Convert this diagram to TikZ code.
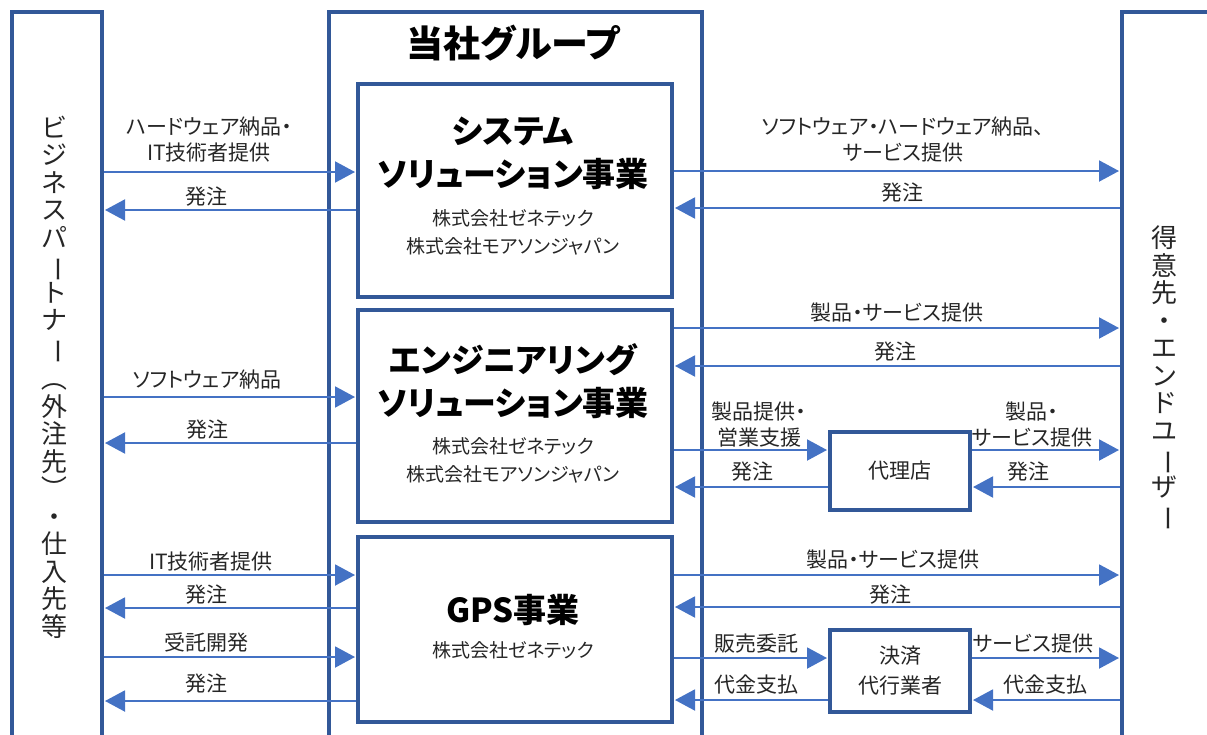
\documentclass[tikz,border=0pt]{standalone}
\usepackage{fontspec}
\usepackage{graphicx}
\setmainfont{Noto Sans CJK JP}[RawFeature=+palt]
\newfontfamily\vfont{Noto Sans CJK JP}
\usetikzlibrary{arrows.meta}
\definecolor{boxc}{RGB}{50,88,152}
\definecolor{arrc}{RGB}{68,114,196}
\definecolor{txtc}{RGB}{38,38,38}
\newcommand\vchoon{\rotatebox[origin=c]{-90}{ー}}
\newcommand\vlparen{\rotatebox[origin=c]{-90}{（}}
\newcommand\vrparen{\rotatebox[origin=c]{-90}{）}}
\begin{document}
\begin{tikzpicture}[x=1pt,y=-1pt,
  bx/.style={draw=boxc, line width=4pt, inner sep=0pt},
  arr/.style={draw=arrc, line width=2pt, -{Triangle[length=20pt,width=21pt]}, shorten >=1pt},
  lbl/.style={font=\fontsize{21}{26}\selectfont, text=txtc, align=center, inner sep=0pt},
  ttl/.style={font=\bfseries\fontsize{33}{43}\selectfont, align=center, inner sep=0pt},
  co/.style={font=\fontsize{19}{28}\selectfont, text=txtc, align=center, inner sep=0pt},
  vtxt/.style={font=\vfont\fontsize{26}{27.5}\selectfont, text=txtc, align=center, inner sep=0pt},
  small/.style={bx, font=\fontsize{21}{30}\selectfont, text=txtc, align=center, minimum width=140pt}]
\useasboundingbox (0,0) rectangle (1207,734);
\clip (0,0) rectangle (1207,734);
% outer columns
\node[bx, anchor=north west, minimum width=90pt, minimum height=760pt] (lp) at (10,10) {};
\node[bx, anchor=north west, minimum width=373pt, minimum height=760pt] (grp) at (327,10) {};
\node[bx, anchor=north west, minimum width=120pt, minimum height=760pt] (rp) at (1120,10) {};
% inner boxes
\node[bx, anchor=north west, minimum width=314pt, minimum height=213pt] (sys) at (356,82) {};
\node[bx, anchor=north west, minimum width=314pt, minimum height=212pt] (eng) at (356,308) {};
\node[bx, anchor=north west, minimum width=314pt, minimum height=185pt] (gps) at (356,535) {};
\node[small, minimum height=78pt] (dairi) at (900,471) {代理店};
\node[small, minimum height=82pt] (kessai) at (900,671) {決済\\代行業者};
% titles
\node[font=\bfseries\fontsize{37}{40}\selectfont, inner sep=0pt] (gtitle) at (513,43) {当社グループ};
\node[ttl] (sysT) at (513,153) {システム\\ソリューション事業};
\node[co] (sysC) at (513,232) {株式会社ゼネテック\\株式会社モアソンジャパン};
\node[ttl] (engT) at (513,381) {エンジニアリング\\ソリューション事業};
\node[co] (engC) at (513,460) {株式会社ゼネテック\\株式会社モアソンジャパン};
\node[ttl] (gpsT) at (513,610) {GPS事業};
\node[co] (gpsC) at (513,650) {株式会社ゼネテック};
% vertical texts
\node[vtxt] (lpT) at (54,377) {ビ\\ジ\\ネ\\ス\\パ\\\vchoon\\ト\\ナ\\\vchoon\\\vlparen\\外\\注\\先\\\vrparen\\・\\仕\\入\\先\\等};
\node[vtxt] (rpT) at (1164,379) {得\\意\\先\\・\\エ\\ン\\ド\\ユ\\\vchoon\\ザ\\\vchoon};
% left arrows
\draw[arr] (lp.east |- 0,172) -- (sys.west |- 0,172);
\draw[arr] (sys.west |- 0,210) -- (lp.east |- 0,210);
\draw[arr] (lp.east |- 0,397) -- (eng.west |- 0,397);
\draw[arr] (eng.west |- 0,443) -- (lp.east |- 0,443);
\draw[arr] (lp.east |- 0,575) -- (gps.west |- 0,575);
\draw[arr] (gps.west |- 0,608) -- (lp.east |- 0,608);
\draw[arr] (lp.east |- 0,657) -- (gps.west |- 0,657);
\draw[arr] (gps.west |- 0,701) -- (lp.east |- 0,701);
% right arrows
\draw[arr] (sys.east |- 0,171) -- (rp.west |- 0,171);
\draw[arr] (rp.west |- 0,208) -- (sys.east |- 0,208);
\draw[arr] (eng.east |- 0,328) -- (rp.west |- 0,328);
\draw[arr] (rp.west |- 0,366) -- (eng.east |- 0,366);
\draw[arr] (eng.east |- 0,450) -- (dairi.west |- 0,450);
\draw[arr] (dairi.west |- 0,487) -- (eng.east |- 0,487);
\draw[arr] (dairi.east |- 0,450) -- (rp.west |- 0,450);
\draw[arr] (rp.west |- 0,487) -- (dairi.east |- 0,487);
\draw[arr] (gps.east |- 0,575) -- (rp.west |- 0,575);
\draw[arr] (rp.west |- 0,607) -- (gps.east |- 0,607);
\draw[arr] (gps.east |- 0,658) -- (kessai.west |- 0,658);
\draw[arr] (kessai.west |- 0,700) -- (gps.east |- 0,700);
\draw[arr] (kessai.east |- 0,658) -- (rp.west |- 0,658);
\draw[arr] (rp.west |- 0,700) -- (kessai.east |- 0,700);
% left labels
\node[lbl] (l1) at (209,140) {ハードウェア納品・\\IT技術者提供};
\node[lbl] (l2) at (206,197) {発注};
\node[lbl] (l3) at (207,380) {ソフトウェア納品};
\node[lbl] (l4) at (207,430) {発注};
\node[lbl] (l5) at (211,562) {IT技術者提供};
\node[lbl] (l6) at (206,595) {発注};
\node[lbl] (l7) at (206,643) {受託開発};
\node[lbl] (l8) at (206,684) {発注};
% right labels
\node[lbl] (r1) at (903,140) {ソフトウェア・ハードウェア納品、\\サービス提供};
\node[lbl] (r2) at (902,193) {発注};
\node[lbl] (r3) at (897,313) {製品・サービス提供};
\node[lbl] (r4) at (895,352) {発注};
\node[lbl] (r5) at (893,560) {製品・サービス提供};
\node[lbl] (r6) at (890,595) {発注};
\node[lbl] (a1) at (759,425) {製品提供・\\営業支援};
\node[lbl] (a2) at (752,472) {発注};
\node[lbl] (a3) at (1032,425) {製品・\\サービス提供};
\node[lbl] (a4) at (1028,472) {発注};
\node[lbl] (p1) at (756,644) {販売委託};
\node[lbl] (p2) at (756,685) {代金支払};
\node[lbl] (p3) at (1033,644) {サービス提供};
\node[lbl] (p4) at (1045,685) {代金支払};
\end{tikzpicture}
\end{document}
